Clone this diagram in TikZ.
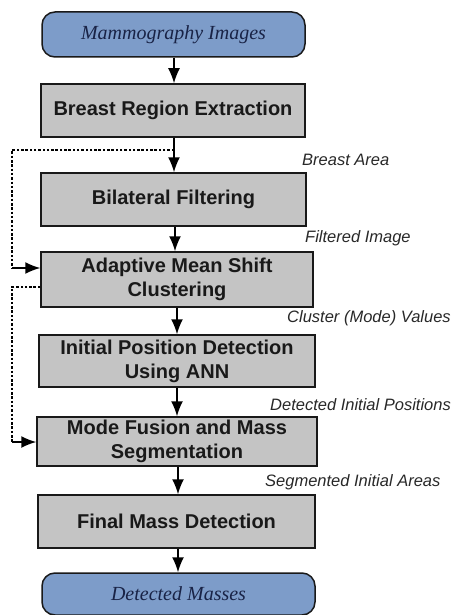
\documentclass[tikz,border=0pt]{standalone}
\usepackage{fontspec}
\setmainfont{Liberation Serif}
\setsansfont{Liberation Sans}
\usetikzlibrary{arrows.meta}
\definecolor{termfill}{RGB}{125,156,201}
\definecolor{termtext}{RGB}{25,35,70}
\definecolor{boxfill}{RGB}{196,196,196}
\definecolor{lbl}{RGB}{40,40,40}
\begin{document}
\begin{tikzpicture}[x=1pt,y=-1pt,
  term/.style={draw=black!90, line width=1.5pt, fill=termfill, rounded corners=13pt,
    font=\fontsize{20}{24}\selectfont\itshape, text=termtext, inner sep=0pt, anchor=center},
  stepbox/.style={draw=black!90, line width=1.5pt, fill=boxfill,
    font=\sffamily\bfseries\fontsize{20}{24}\selectfont, text=black!90, align=center, inner sep=0pt, anchor=center},
  flow/.style={line width=1.5pt, -{Latex[length=15pt,width=12pt]}},
  fb/.style={line width=1.7pt, dash pattern=on 2.5pt off 1.8pt},
  lab/.style={font=\sffamily\itshape\fontsize{16.5}{20}\selectfont, text=lbl, anchor=west, inner sep=0pt}
]
\useasboundingbox (0,0) rectangle (454,615);
\node[term, minimum width=263pt, minimum height=45pt] (t1) at (173.5,34.5) {Mammography Images};
\node[stepbox, minimum width=264pt, minimum height=53pt] (b1) at (173,110.5) {Breast Region Extraction};
\node[stepbox, minimum width=265pt, minimum height=53pt] (b2) at (173.5,199.5) {Bilateral Filtering};
\node[stepbox, minimum width=272pt, minimum height=55pt] (b3) at (177,279.5) {Adaptive Mean Shift\\Clustering};
\node[stepbox, minimum width=276pt, minimum height=52pt] (b4) at (177,361) {Initial Position Detection\\Using ANN};
\node[stepbox, minimum width=280pt, minimum height=49pt] (b5) at (177,441.5) {Mode Fusion and Mass\\Segmentation};
\node[stepbox, minimum width=277pt, minimum height=53pt] (b6) at (176.5,521.5) {Final Mass Detection};
\node[term, minimum width=273pt, minimum height=42pt] (t2) at (178.5,594) {Detected Masses};

\draw[flow] (t1.south -| 174,0) -- (b1.north -| 174,0);
\draw[flow] (b1.south -| 174,0) -- (b2.north -| 174,0);
\draw[flow] (b2.south -| 175,0) -- (b3.north -| 175,0);
\draw[flow] (b3.south -| 177,0) -- (b4.north -| 177,0);
\draw[flow] (b4.south -| 177,0) -- (b5.north -| 177,0);
\draw[flow] (b5.south -| 178,0) -- (b6.north -| 178,0);
\draw[flow] (b6.south -| 178,0) -- (t2.north -| 178,0);

\coordinate (s1) at (174,150);
\coordinate (c1) at (12,150);
\coordinate (c2) at (12,268);
\draw[fb] (s1) -- (c1) -- (c2);
\draw[line width=1.5pt, -{Latex[length=15pt,width=12pt]}] (c2) -- (b3.west |- c2);
\coordinate (s2) at (b3.west |- 0,287);
\coordinate (c3) at (12,287);
\coordinate (c4) at (12,442);
\draw[fb] (s2) -- (c3) -- (c4);
\draw[line width=1.5pt, -{Latex[length=15pt,width=12pt]}] (c4) -- (b5.west |- c4);

\node[lab] (l1) at (302,160) {Breast Area};
\node[lab] (l2) at (305,238) {Filtered Image};
\node[lab] (l3) at (287,318) {Cluster (Mode) Values};
\node[lab] (l4) at (270,405) {Detected Initial Positions};
\node[lab] (l5) at (265,482) {Segmented Initial Areas};
\end{tikzpicture}
\end{document}
